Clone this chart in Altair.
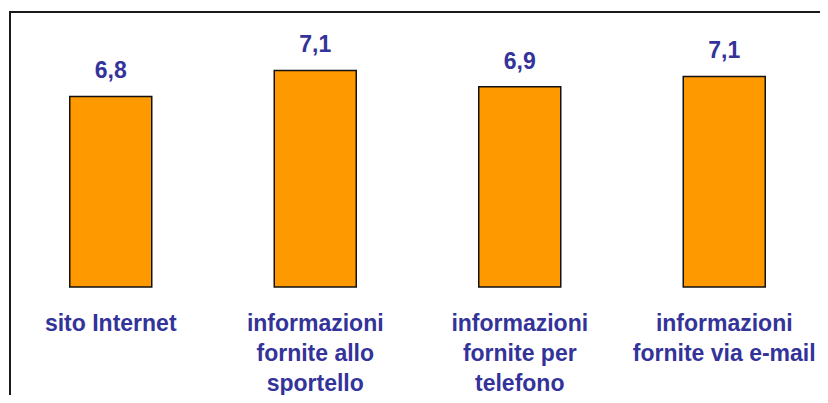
import altair as alt
import pandas as pd

categories = ["sito Internet",
              "informazioni fornite allo sportello",
              "informazioni fornite per telefono",
              "informazioni fornite via e-mail"]
category_lines = ["sito Internet",
                  "informazioni\nfornite allo\nsportello",
                  "informazioni\nfornite per\ntelefono",
                  "informazioni\nfornite via e-mail"]
values = [6.80, 7.10, 6.91, 7.03]
value_labels = ["6,8", "7,1", "6,9", "7,1"]
axis_min = 4.6
axis_max = 7.82

df = pd.DataFrame({"cat": categories, "lines": category_lines,
                   "v": values, "lab": value_labels, "base": [axis_min] * 4})

TXT = "#333399"
FONT = "Liberation Sans"

x = alt.X("cat:N", sort=categories, axis=None,
          scale=alt.Scale(paddingInner=0, paddingOuter=0, range=[0.5, 818.5]))
y = alt.Y("v:Q", axis=None, scale=alt.Scale(domain=[axis_min, axis_max], zero=False, nice=False))

base = alt.Chart(df)
bars = base.mark_bar(color="#FF9900", stroke="#111111", strokeWidth=1.5, size=82).encode(
    x=x, y=y, y2="base:Q")
vals = base.mark_text(font=FONT, fontSize=23, fontWeight="bold", color=TXT,
                      baseline="alphabetic", dy=-18).encode(x=x, y=y, text="lab:N")
cats = base.mark_text(font=FONT, fontSize=23, fontWeight="bold", color=TXT,
                      baseline="alphabetic", lineBreak="\n", lineHeight=30).encode(
    x=x, y=alt.value(323), text="lines:N")

frame = alt.Chart(pd.DataFrame({"a": [0]}))
left = frame.mark_rule(color="#1a1a1a", strokeWidth=2).encode(
    x=alt.value(2), y=alt.value(3), y2=alt.value(400))
top = frame.mark_rule(color="#1a1a1a", strokeWidth=2).encode(
    x=alt.value(1), x2=alt.value(830), y=alt.value(4))

chart = alt.layer(bars, vals, cats, left, top).properties(
    width=810, height=279,
    autosize=alt.AutoSizeParams(type="none"),
    padding={"left": 0, "top": 0, "right": 2, "bottom": 108},
).configure_view(stroke=None)

chart.save("out.html", embed_options={"renderer": "svg", "actions": False})
